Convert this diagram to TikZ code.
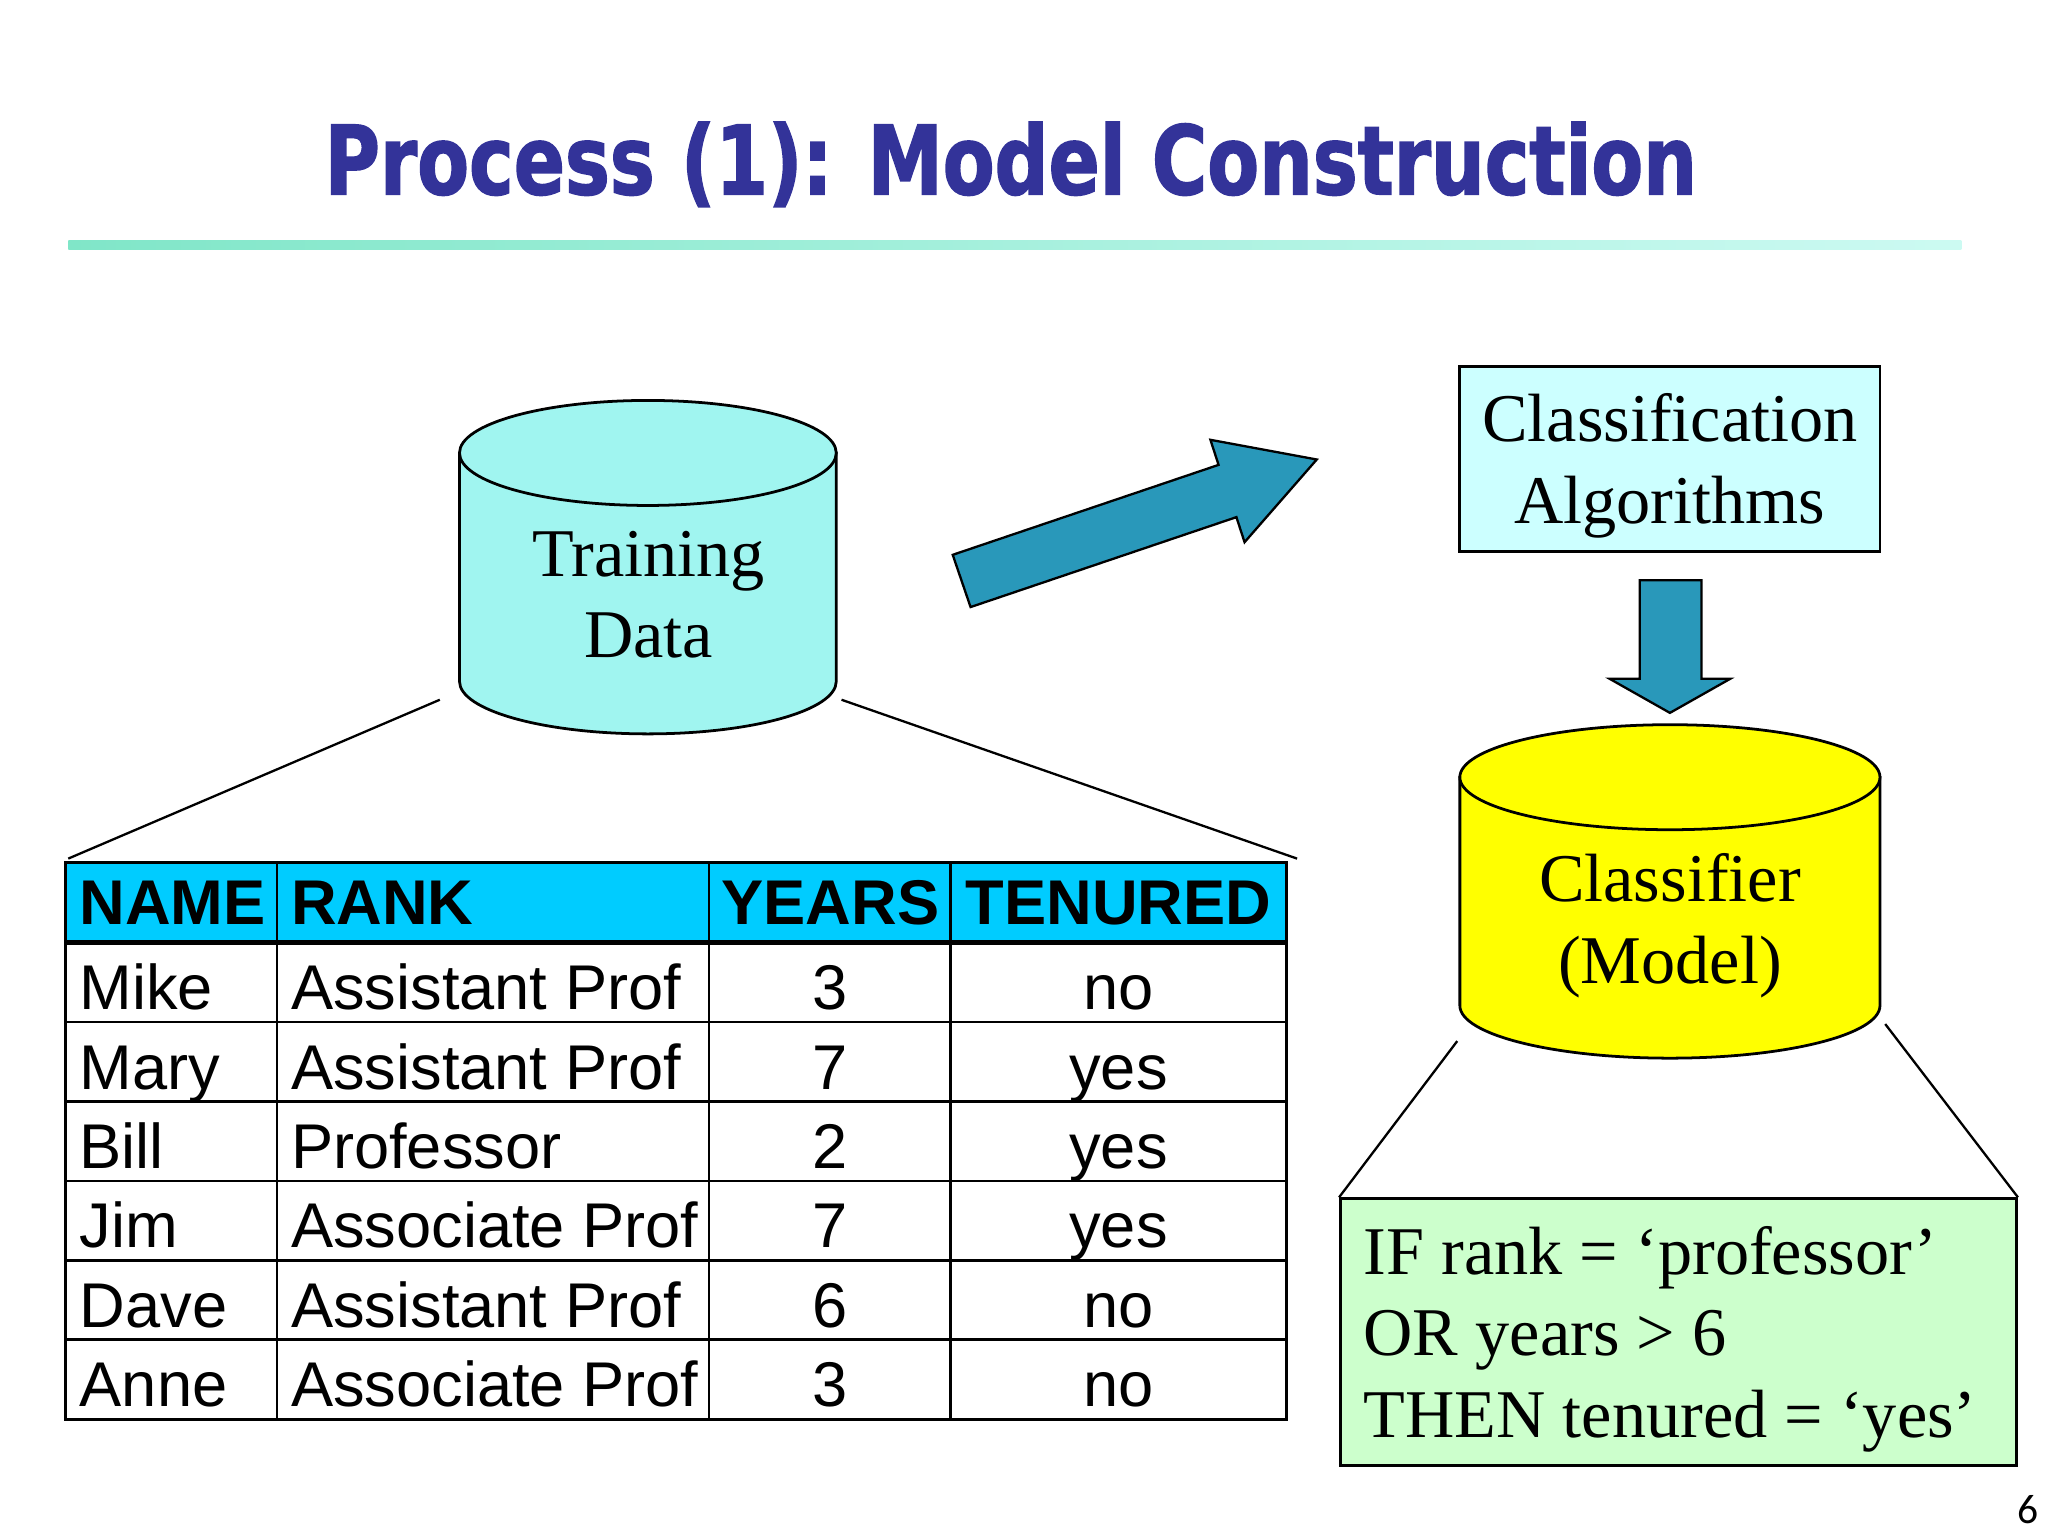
\documentclass[tikz,border=0pt]{standalone}
\usepackage{fontspec}
\setmainfont{Liberation Serif}
\newfontfamily\tabfont{Liberation Sans}
\newfontfamily\titlefont[FakeStretch=0.79, FakeBold=1.5]{DejaVu Sans}
\newfontfamily\pagefont{Carlito}
\usetikzlibrary{positioning}

\definecolor{titleblue}{RGB}{51,51,153}
\definecolor{barleft}{RGB}{128,230,200}
\definecolor{barright}{RGB}{204,250,242}
\definecolor{datacyan}{RGB}{160,245,240}
\definecolor{algofill}{RGB}{204,255,255}
\definecolor{modelyellow}{RGB}{255,255,0}
\definecolor{rulegreen}{RGB}{204,255,204}
\definecolor{arrowblue}{RGB}{41,152,186}
\definecolor{headcyan}{RGB}{0,204,255}

\tikzset{
  cyl/.style={draw=black, line width=0.6pt},
  boxtext/.style={font=\fontsize{14.8}{17.7}\selectfont, align=center, inner sep=0pt},
  cell/.style={font=\tabfont\fontsize{13.7}{16}\selectfont, inner sep=0pt, anchor=base west},
  headcell/.style={cell, font=\tabfont\bfseries\fontsize{13.7}{16}\selectfont},
  blockarrow/.style={draw=black, line width=0.5pt, fill=arrowblue},
  zoomline/.style={draw=black, line width=0.5pt},
}

\begin{document}
\begin{tikzpicture}[x=0.1mm, y=-0.1mm]
\useasboundingbox (0,0) rectangle (1560,1170);

% title
\node[font=\titlefont\bfseries\fontsize{20.7}{24}\selectfont, text=titleblue, anchor=base, inner sep=0pt] (title) at (770,148) {Process (1): Model Construction};
\shade[left color=barleft, right color=barright] (52,183) rectangle (1494,190);

% training data
\path[cyl, fill=datacyan] (350,345) -- (350,519) arc[start angle=180, end angle=0, x radius=143.5, y radius=40] -- (637,345) -- cycle;
\filldraw[cyl, fill=datacyan] (493.5,345) ellipse[x radius=143.5, y radius=40];
\node[boxtext] (data) at (494,453) {Training\\Data};

% big arrow
\draw[blockarrow] (739.3,462.4) -- (725.7,422.6) -- (928.2,354.1) -- (922,335) -- (1003,350) -- (948,413) -- (941.8,393.9) -- cycle;

% algorithms
\node[draw, line width=0.6pt, fill=algofill, minimum width=32mm, minimum height=14.1mm, inner sep=0pt] (algo) at (1272,349.5) {};
\node[boxtext] (algotext) at (1272,355) {Classification\\Algorithms};

\draw[blockarrow] (1249,442) -- (1296,442) -- (1296,517) -- (1318,517) -- (1272,543) -- (1226,517) -- (1249,517) -- cycle;

% classifier
\path[cyl, fill=modelyellow] (1112,592) -- (1112,766) arc[start angle=180, end angle=0, x radius=160, y radius=40] -- (1432,592) -- cycle;
\filldraw[cyl, fill=modelyellow] (1272,592) ellipse[x radius=160, y radius=40];
\node[boxtext] (model) at (1272,705) {Classifier\\(Model)};

% rule
\node[draw, line width=0.6pt, fill=rulegreen, minimum width=51.5mm, minimum height=20.3mm, anchor=north west, inner sep=0pt] (rulebox) at (1020,912) {};
\node[boxtext, align=left, anchor=west] (ruletext) at (1038,1020) {IF rank = ‘professor’\\OR years > 6\\THEN tenured = ‘yes’};

% table
\fill[headcyan] (50,657) rectangle (980,718);
\draw[line width=0.6pt] (50,657) rectangle (980,1081);
\foreach \x in {211,540,724}
  \draw[line width=0.6pt] (\x,657) -- (\x,1081);
\foreach \i in {1,...,5}
  \draw[line width=0.6pt] (50,{718+60.5*\i}) -- (980,{718+60.5*\i});
\draw[line width=1.1pt] (50,718) -- (980,718);

\node[headcell] (hname) at (60,704) {NAME};
\node[headcell] (hrank) at (221,704) {RANK};
\node[headcell] (hyears) at (549,704) {YEARS};
\node[headcell] (htenured) at (735,704) {TENURED};

\foreach \n/\r/\y/\t [count=\i] in {Mike/Assistant Prof/3/no, Mary/Assistant Prof/7/yes, Bill/Professor/2/yes, Jim/Associate Prof/7/yes, Dave/Assistant Prof/6/no, Anne/Associate Prof/3/no} {
  \node[cell] (name\i) at (60,{718+60.5*(\i-1)+51}) {\n};
  \node[cell] (rank\i) at (221,{718+60.5*(\i-1)+51}) {\r};
  \node[cell, anchor=base] (years\i) at (632,{718+60.5*(\i-1)+51}) {\y};
  \node[cell, anchor=base] (tenured\i) at (852,{718+60.5*(\i-1)+51}) {\t};
}

% zoom lines
\coordinate (tdl) at (335,533);
\coordinate (tdr) at (641,533);
\coordinate (tabl) at (52,654);
\coordinate (tabr) at (988,654);
\coordinate (cml) at (1110,793);
\coordinate (cmr) at (1436,780);
\draw[zoomline] (tdl) -- (tabl);
\draw[zoomline] (tdr) -- (tabr);
\draw[zoomline] (cml) -- (rulebox.north west);
\draw[zoomline] (cmr) -- (rulebox.north east);

\node[font=\pagefont\fontsize{9}{10}\selectfont, inner sep=0pt] (pagenum) at (1545,1150) {6};

\end{tikzpicture}
\end{document}
